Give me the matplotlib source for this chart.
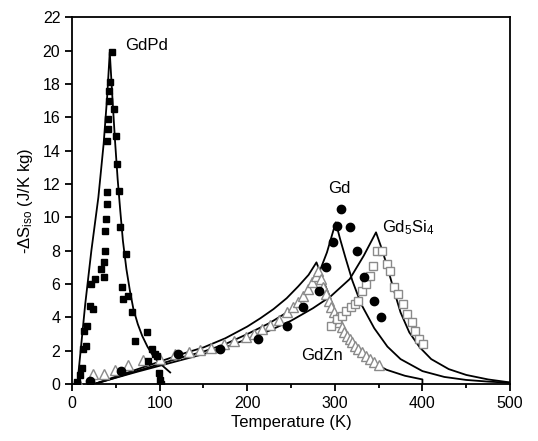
import matplotlib
matplotlib.use("Agg")
import matplotlib.pyplot as plt
from matplotlib.ticker import MultipleLocator

plt.rcParams['font.family'] = ['Liberation Sans', 'DejaVu Sans']
plt.rcParams['mathtext.default'] = 'regular'

# GdPd (filled squares)
gdpd_T = [6, 6, 9, 11, 13, 14, 16, 17, 20, 22, 24, 26, 33, 36, 37, 38, 38, 39, 40, 40, 40, 41, 41, 42, 42, 43, 45,
          48, 50, 51, 54, 55, 57, 58, 62, 64, 68, 72, 85, 87, 91, 95, 97, 99, 100, 101]
gdpd_S = [0.0, 0.14, 0.54, 0.94, 2.1, 3.2, 2.3, 3.5, 4.7, 6.0, 4.5, 6.3, 6.9, 7.3, 6.4, 8.0, 9.2, 9.9, 10.8, 11.5,
          14.6, 15.3, 15.9, 17.0, 17.6, 18.1, 19.9, 16.5, 14.9, 13.2, 11.6, 9.4, 5.8, 5.1, 7.8, 5.3, 4.3, 2.6,
          3.1, 1.4, 2.1, 1.8, 1.7, 0.64, 0.24, 0.0]

# Gd (filled circles)
gd_T = [20, 56, 121, 169, 212, 245, 264, 282, 290, 298, 303, 307, 317, 325, 333, 345, 353]
gd_S = [0.18, 0.78, 1.8, 2.1, 2.7, 3.5, 4.6, 5.6, 7.0, 8.5, 9.5, 10.5, 9.4, 8.0, 6.4, 5.0, 4.0]

# GdZn (open triangles)
gdzn_T = [7, 24, 36, 49, 64, 81, 100, 118, 133, 146, 159, 173, 185, 198, 208, 217, 226, 236, 245, 252, 258, 264,
          269, 274, 278, 281, 284, 287, 290, 293, 296, 299, 302, 305, 308, 311, 314, 317, 320, 323, 327, 331, 335,
          340, 345, 350]
gdzn_S = [0.14, 0.6, 0.6, 0.84, 1.14, 1.44, 1.53, 1.8, 1.94, 2.07, 2.17, 2.42, 2.57, 2.8, 3.0, 3.3, 3.55, 3.85,
          4.3, 4.6, 4.9, 5.3, 5.7, 6.1, 6.5, 6.8, 6.3, 5.8, 5.4, 5.0, 4.6, 4.3, 4.0, 3.7, 3.4, 3.1, 2.9, 2.7, 2.5,
          2.3, 2.1, 1.9, 1.7, 1.5, 1.3, 1.15]

# Gd5Si4 (open squares)
gd5si4_T = [296, 302, 308, 313, 318, 323, 327, 331, 335, 340, 344, 348, 354, 359, 363, 368, 372, 378, 382, 388,
            392, 396, 401]
gd5si4_S = [3.5, 3.9, 4.1, 4.4, 4.6, 4.8, 5.0, 5.6, 6.0, 6.5, 7.1, 8.0, 8.0, 7.2, 6.8, 5.8, 5.4, 4.8, 4.2, 3.7,
            3.2, 2.7, 2.4]

# calculated curves
fit_gdpd_T = [6, 15, 22, 30, 36, 40, 43, 46, 49, 52, 55, 58, 62, 66, 70, 75, 80, 86, 93, 100, 112]
fit_gdpd_S = [0.0, 4.8, 8.0, 11.2, 14.4, 17.2, 19.9, 17.2, 14.6, 12.3, 10.4, 8.6, 6.9, 5.6, 4.5, 3.6, 2.9, 2.25,
              1.65, 1.25, 0.7]

fit_gdzn_T = [25, 50, 75, 100, 125, 150, 175, 200, 215, 230, 245, 258, 270, 279, 286, 293, 300, 306, 315, 325,
              340, 359, 380, 400, 400]
fit_gdzn_S = [0.0, 0.45, 0.9, 1.35, 1.8, 2.2, 2.75, 3.45, 3.95, 4.5, 5.15, 5.85, 6.55, 7.3, 6.3, 5.4, 4.4, 3.6,
              2.75, 2.05, 1.4, 0.86, 0.5, 0.28, 0.0]

fit_gd_T = [25, 50, 75, 100, 125, 150, 175, 200, 225, 250, 265, 280, 291, 301, 306, 312, 320, 330, 345, 360, 375,
            400, 425, 450, 475, 500]
fit_gd_S = [0.0, 0.4, 0.8, 1.2, 1.6, 1.95, 2.4, 3.0, 3.65, 4.45, 5.25, 6.4, 7.9, 9.7, 8.7, 7.6, 6.2, 4.8, 3.35,
            2.25, 1.5, 0.78, 0.43, 0.25, 0.15, 0.08]

fit_gd5si4_T = [25, 50, 75, 100, 125, 150, 175, 200, 225, 250, 275, 295, 317, 333, 347, 353, 359, 367, 375, 385,
                397, 410, 430, 450, 475, 500]
fit_gd5si4_S = [0.0, 0.38, 0.75, 1.1, 1.45, 1.8, 2.2, 2.7, 3.2, 3.8, 4.55, 5.25, 6.3, 7.7, 9.1, 8.2, 7.2, 5.7,
                4.3, 3.1, 2.2, 1.5, 0.9, 0.55, 0.28, 0.1]

fig = plt.figure(figsize=(5.38, 4.41), dpi=100)
ax = fig.add_axes([0.134, 0.129, 0.814, 0.832])

for T, S in [(fit_gdpd_T, fit_gdpd_S), (fit_gdzn_T, fit_gdzn_S), (fit_gd_T, fit_gd_S),
             (fit_gd5si4_T, fit_gd5si4_S)]:
    ax.plot(T, S, color='black', lw=1.3, zorder=2)

grey = '#8a8a8a'
ax.plot(gdzn_T, gdzn_S, '^', ms=6.5, mfc='white', mec=grey, mew=1.0, ls='none', zorder=3)
ax.plot(gd5si4_T, gd5si4_S, 's', ms=6, mfc='white', mec=grey, mew=1.0, ls='none', zorder=3)
ax.plot(gd_T, gd_S, 'o', ms=6, color='black', ls='none', zorder=4)
ax.plot(gdpd_T, gdpd_S, 's', ms=5, color='black', ls='none', zorder=4)

# labels next to the curves
ax.text(60, 20.3, 'GdPd', fontsize=12, va='center', ha='left')
ax.text(305, 11.7, 'Gd', fontsize=12, va='center', ha='center')
ax.text(354, 9.4, 'Gd$_5$Si$_4$', fontsize=12, va='center', ha='left')
ax.text(285, 1.74, 'GdZn', fontsize=12, va='center', ha='center')

ax.set_xlim(0, 500)
ax.set_ylim(0, 22)
ax.xaxis.set_major_locator(MultipleLocator(100))
ax.xaxis.set_minor_locator(MultipleLocator(50))
ax.yaxis.set_major_locator(MultipleLocator(2))
ax.tick_params(which='both', direction='out', top=False, right=False, labelsize=11.5, width=1.3)
ax.tick_params(which='major', length=5)
ax.tick_params(which='minor', length=3)
for sp in ax.spines.values():
    sp.set_linewidth(1.3)

ax.set_xlabel('Temperature (K)', fontsize=12, labelpad=3)
ax.set_ylabel('-ΔS$_{iso}$ (J/K kg)', fontsize=12, labelpad=5)

fig.savefig('out.png', dpi=100)
